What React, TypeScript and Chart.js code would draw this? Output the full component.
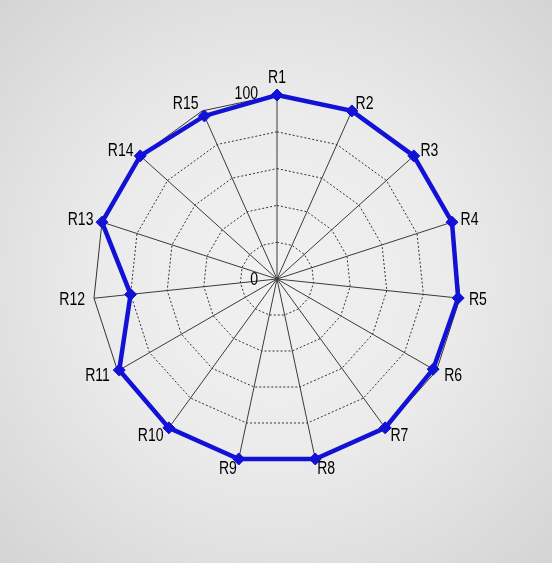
import { useRef, useEffect } from 'react';
import { Chart, registerables } from 'chart.js';

Chart.register(...registerables);

// ejes del radar y valores de la serie
const categories = ['R1', 'R2', 'R3', 'R4', 'R5', 'R6', 'R7', 'R8', 'R9', 'R10', 'R11', 'R12', 'R13', 'R14', 'R15'];
const values = [100, 100, 100, 100, 99, 98, 100, 100, 100, 100, 99, 80, 100, 100, 97];
const tickLabels = ['0', '100'];
const scaleMin = 0;
const scaleMax = 100;
const scaleStep = 20;

const FONT = '"Liberation Sans", Arial, sans-serif';
const BLUE = 'rgb(18, 18, 214)';
const NARROW = 0.78; // letra estrecha, como Arial Narrow

function narrowText(ctx: CanvasRenderingContext2D, text: string, x: number, y: number) {
  ctx.save();
  ctx.translate(x, y);
  ctx.scale(NARROW, 1);
  ctx.fillText(text, 0, 0);
  ctx.restore();
}

// etiquetas de los ejes al estilo Excel: centradas en vertical junto al vértice
const labelsPlugin = {
  id: 'axisText',
  afterDatasetsDraw(chart: any) {
    const s = chart.scales.r;
    const ctx = chart.ctx;
    ctx.save();
    ctx.font = `18px ${FONT}`;
    ctx.fillStyle = '#000';
    ctx.textBaseline = 'middle';
    const labels: string[] = chart.data.labels;
    labels.forEach((lbl, i) => {
      const a = s.getIndexAngle(i);
      const p = s.getPointPosition(i, s.drawingArea + 9);
      const sin = Math.sin(a);
      let y = p.y;
      if (Math.abs(sin) < 0.05) {
        ctx.textAlign = 'center';
        y = p.y - 9 * Math.sign(Math.cos(a));
      } else {
        ctx.textAlign = sin > 0 ? 'left' : 'right';
      }
      narrowText(ctx, lbl, p.x, y + 1);
    });
    // 0 y 100 a la izquierda del eje R1
    ctx.textAlign = 'right';
    const p0 = s.getPointPositionForValue(0, scaleMin);
    const p1 = s.getPointPositionForValue(0, scaleMax);
    narrowText(ctx, tickLabels[0], p0.x - 19, p0.y + 1);
    narrowText(ctx, tickLabels[1], p1.x - 19, p1.y - 1);
    ctx.restore();
  },
};

function RadarChart() {
  const canvasRef = useRef<HTMLCanvasElement>(null);

  useEffect(() => {
    const canvas = canvasRef.current;
    if (!canvas) return;
    const chart = new Chart(canvas, {
      type: 'radar',
      data: {
        labels: categories,
        datasets: [{
          data: values,
          borderColor: BLUE,
          backgroundColor: BLUE,
          borderWidth: 4.5,
          fill: false,
          pointStyle: 'rectRot',
          pointRadius: 6,
          pointBackgroundColor: BLUE,
          pointBorderColor: BLUE,
          pointBorderWidth: 1,
        }],
      },
      options: {
        animation: false,
        responsive: true,
        maintainAspectRatio: false,
        layout: { padding: { left: 93, right: 91, top: 95, bottom: 100 } },
        plugins: { legend: { display: false }, tooltip: { enabled: false } },
        scales: {
          r: {
            min: scaleMin,
            max: scaleMax,
            ticks: { stepSize: scaleStep, display: false },
            angleLines: { color: '#3a3a3a', lineWidth: 1 },
            grid: { color: '#333', lineWidth: 1 },
            border: { dash: (c: any) => (c.tick && c.tick.value === scaleMax ? [] : [2, 2]) },
            pointLabels: { display: false },
          },
        },
      },
      plugins: [labelsPlugin],
    });
    return () => {
      chart.destroy();
    };
  }, []);

  return <canvas ref={canvasRef} />;
}

export default function App() {
  return (
    <div
      style={{
        position: 'fixed',
        left: 0,
        top: 0,
        width: 552,
        height: 563,
        background: 'radial-gradient(circle at 50% 50%, #f1f1f1 0%, #ebebeb 45%, #d4d4d4 100%)',
      }}
    >
      <div style={{ position: 'relative', width: 552, height: 563 }}>
        <RadarChart />
      </div>
    </div>
  );
}
